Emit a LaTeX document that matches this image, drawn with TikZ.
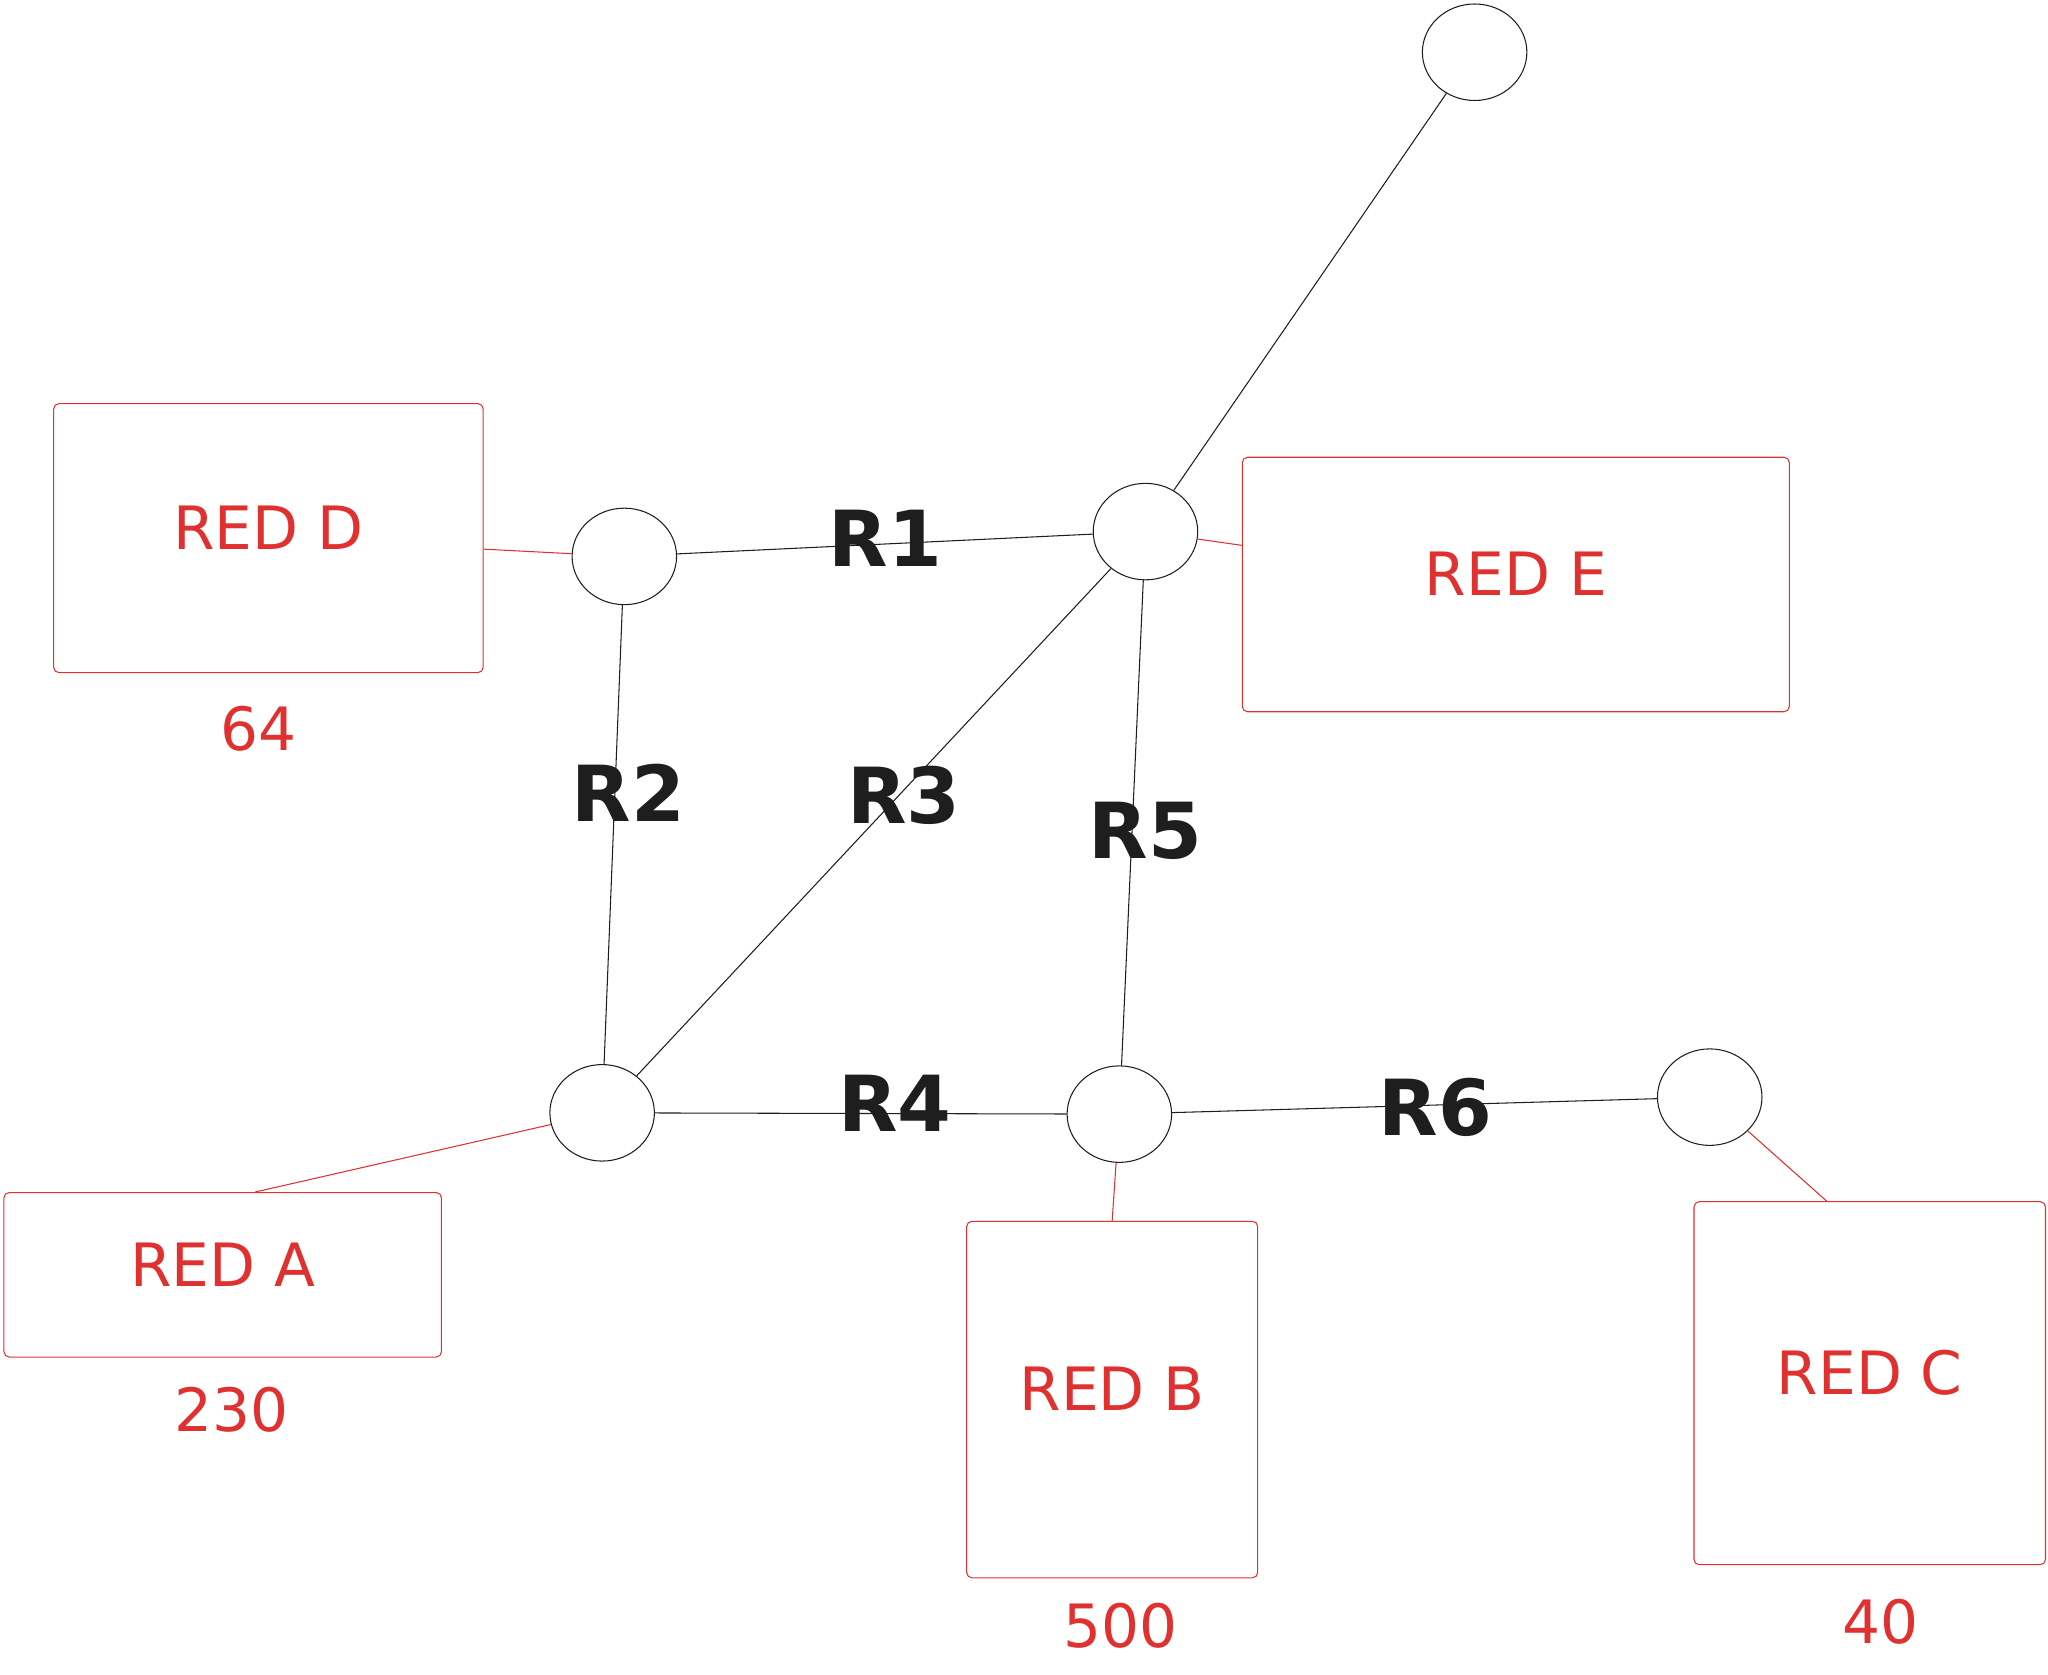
\documentclass[tikz,border=0pt]{standalone}
\usepackage{fontspec}
\setmainfont{DejaVu Sans}
\usetikzlibrary{shapes.geometric}

\definecolor{redline}{HTML}{E03131}
\definecolor{inkblack}{HTML}{1E1E1E}

\begin{document}
\begin{tikzpicture}[x=0.02612cm, y=-0.02612cm,
		router/.style={ellipse, draw=inkblack, line width=0.6pt, minimum width=2.09cm, minimum height=1.93cm, inner sep=0pt},
		netbox/.style={rectangle, draw=redline, line width=0.6pt, rounded corners=3pt, inner sep=0pt, text=redline, text height=25pt, text depth=12pt, font=\fontsize{34}{38}\selectfont},
		hosts/.style={text=redline, font=\fontsize{34}{38}\selectfont},
		link/.style={draw=inkblack, line width=0.6pt},
		access/.style={draw=redline, line width=0.6pt},
		linkname/.style={text=inkblack, font=\bfseries\fontsize{44}{48}\selectfont}]
			\useasboundingbox (0,0) rectangle (1568,1282);
			
			% routers
			\node[router] (nT) at (1129, 40) {};
			\node[router] (nD) at (478, 426) {};
			\node[router] (nE) at (877, 407) {};
			\node[router] (nA) at (461, 852) {};
			\node[router] (nB) at (857, 853) {};
			\node[router] (nC) at (1309, 840) {};
			
			% networks
			\node[netbox, minimum width=8.59cm, minimum height=5.38cm] (redD) at (205.5, 412) {RED D};
			\node[netbox, minimum width=10.94cm, minimum height=5.09cm] (redE) at (1160.5, 447.5) {RED E};
			\node[netbox, minimum width=8.75cm, minimum height=3.29cm] (redA) at (170.5, 976) {RED A};
			\node[netbox, minimum width=5.82cm, minimum height=7.13cm] (redB) at (851.5, 1071.5) {RED B};
			\node[netbox, minimum width=7.03cm, minimum height=7.26cm] (redC) at (1431.5, 1059) {RED C};
			
			\node[hosts] (hD) at (198, 558) {64};
			\node[hosts] (hA) at (177, 1079) {230};
			\node[hosts] (hB) at (858, 1245) {500};
			\node[hosts] (hC) at (1440, 1242) {40};
			
			% links
			\draw[link] (nT) -- (nE);
			\draw[link] (nD) -- (nE);
			\draw[link] (nD) -- (nA);
			\draw[link] (nA) -- (nE);
			\draw[link] (nE) -- (nB);
			\draw[link] (nA) -- (nB);
			\draw[link] (nB) -- (nC);
			
			\draw[access] (redD) -- (nD);
			\draw[access] (nE) -- (redE);
			\draw[access] ([xshift=0.65cm]redA.north) -- (nA);
			\draw[access] (redB.north) -- (nB);
			\draw[access] ([xshift=-0.86cm]redC.north) -- (nC);
			
			\node[linkname] (lR1) at (678, 412) {R1};
			\node[linkname] (lR2) at (481, 607) {R2};
			\node[linkname] (lR3) at (692, 609) {R3};
			\node[linkname] (lR5) at (877, 636) {R5};
			\node[linkname] (lR4) at (685, 845) {R4};
			\node[linkname] (lR6) at (1099, 848) {R6};
		\end{tikzpicture}
\end{document}
